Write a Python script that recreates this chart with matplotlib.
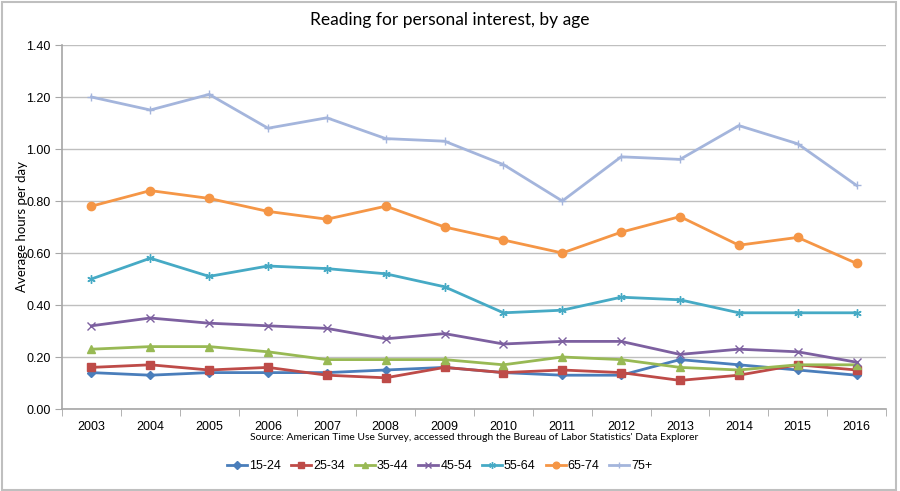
import numpy as np
import matplotlib.pyplot as plt
from matplotlib.patches import Rectangle

years = [str(y) for y in range(2003, 2017)]

age_15_24 = [0.14, 0.13, 0.14, 0.14, 0.14, 0.15, 0.16, 0.14, 0.13, 0.13, 0.19, 0.17, 0.15, 0.13]
age_25_34 = [0.16, 0.17, 0.15, 0.16, 0.13, 0.12, 0.16, 0.14, 0.15, 0.14, 0.11, 0.13, 0.17, 0.15]
age_35_44 = [0.23, 0.24, 0.24, 0.22, 0.19, 0.19, 0.19, 0.17, 0.20, 0.19, 0.16, 0.15, 0.17, 0.17]
age_45_54 = [0.32, 0.35, 0.33, 0.32, 0.31, 0.27, 0.29, 0.25, 0.26, 0.26, 0.21, 0.23, 0.22, 0.18]
age_55_64 = [0.50, 0.58, 0.51, 0.55, 0.54, 0.52, 0.47, 0.37, 0.38, 0.43, 0.42, 0.37, 0.37, 0.37]
age_65_74 = [0.78, 0.84, 0.81, 0.76, 0.73, 0.78, 0.70, 0.65, 0.60, 0.68, 0.74, 0.63, 0.66, 0.56]
age_75p = [1.20, 1.15, 1.21, 1.08, 1.12, 1.04, 1.03, 0.94, 0.80, 0.97, 0.96, 1.09, 1.02, 0.86]

labels = ["15-24", "25-34", "35-44", "45-54", "55-64", "65-74", "75+"]
series = [age_15_24, age_25_34, age_35_44, age_45_54, age_55_64, age_65_74, age_75p]
colors = ["#4A7EBB", "#BE4B48", "#98B954", "#7D60A0", "#46AAC5", "#F59646", "#A4B5DC"]
markers = ["D", "s", "^", "x", (6, 2, 0), "o", "+"]
msizes = [4.5, 6, 6, 5.5, 6, 6, 6]

plt.rcParams['font.family'] = ['Lato', 'DejaVu Sans']
tickfont = 'Liberation Sans'

fig = plt.figure(figsize=(9, 4.91), dpi=100)
ax = fig.add_axes([62/900, 1-409/491, (886-62)/900, (409-45)/491])

x = np.arange(len(years))
for s, lab, c, m, ms in zip(series, labels, colors, markers, msizes):
    if isinstance(m, tuple) or m in ("x", "+"):
        ax.plot(x, s, color=c, lw=2.0, label=lab, marker=m, ms=ms, mew=1.0)
    else:
        ax.plot(x, s, color=c, lw=2.0, label=lab, marker=m, ms=ms, mec=c)

ax.set_xlim(-0.5, len(years) - 0.5)
ax.set_ylim(0, 1.4)
yt = np.arange(0, 1.41, 0.2)
ax.set_yticks(yt)
ax.set_yticklabels([f"{v:.2f}" for v in yt], fontsize=9, family=tickfont)
ax.set_xticks(x)
ax.set_xticklabels(years, fontsize=9, family=tickfont)
ax.set_xticks(np.arange(-0.5, len(years), 1), minor=True)
ax.tick_params(axis='x', which='major', length=0, pad=9)
ax.tick_params(axis='x', which='minor', length=5, color='#A6A6A6', direction='out')
ax.tick_params(axis='y', length=5, color='#A6A6A6', direction='out', pad=3)
ax.grid(axis='y', color='#BFBFBF', lw=1)
ax.set_axisbelow(True)
for sp in ['top', 'right']:
    ax.spines[sp].set_visible(False)
for sp in ['left', 'bottom']:
    ax.spines[sp].set_color('#A6A6A6')
    ax.spines[sp].set_linewidth(1.2)

ax.set_ylabel("Average hours per day", fontsize=9.5)
ax.yaxis.set_label_coords(-34/824, 0.5)
fig.text(0.5, 1-20/491, "Reading for personal interest, by age", ha='center', va='center', fontsize=12.5)
fig.text(474/900, 1-437/491, "Source: American Time Use Survey, accessed through the Bureau of Labor Statistics' Data Explorer",
         ha='center', va='center', fontsize=7.5)

fig.legend(loc='center', bbox_to_anchor=(440/900, 1-466/491), ncol=7, frameon=False,
           prop={'family': tickfont, 'size': 9},
           handlelength=1.6, columnspacing=0.8, handletextpad=0.15, markerscale=0.8)

fig.patches.append(Rectangle((0.002, 0.002), 0.994, 0.994, transform=fig.transFigure,
                             fill=False, edgecolor='#BFBFBF', lw=1.5))

fig.savefig('out.png', dpi=100)
